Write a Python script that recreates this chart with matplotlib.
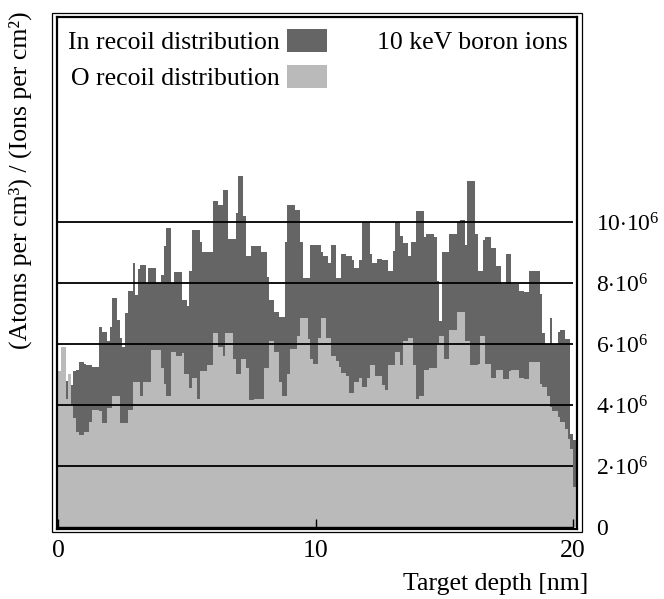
import numpy as np
import matplotlib
matplotlib.use("Agg")
import matplotlib.pyplot as plt
from matplotlib.patches import Patch, Rectangle

plt.rcParams['font.family'] = ['Liberation Serif', 'DejaVu Serif']
plt.rcParams['mathtext.fontset'] = 'custom'
plt.rcParams['mathtext.rm'] = 'Liberation Serif'
plt.rcParams['mathtext.it'] = 'Liberation Serif:italic'

# recoil densities per 0.1 nm bin, in units of 1e6 (atoms/cm3)/(ions/cm2)
in_recoil = [
    4.9, 4.6, 4.6, 4.8, 5.0, 4.65, 5.1, 5.15, 5.4, 5.4,
    5.35, 5.3, 5.3, 5.25, 5.25, 5.25, 6.55, 6.4, 6.4, 6.1,
    6.55, 7.5, 7.5, 6.8, 6.2, 5.9, 7.0, 7.75, 7.75, 8.65,
    7.6, 8.45, 8.6, 8.6, 8.0, 8.5, 8.5, 8.5, 8.0, 8.0,
    8.25, 9.2, 9.8, 9.8, 8.0, 8.35, 8.35, 8.35, 7.45, 7.45,
    7.25, 8.4, 9.75, 9.75, 9.75, 9.35, 9.0, 9.0, 9.0, 9.0,
    10.7, 10.7, 10.55, 10.55, 11.05, 11.05, 9.45, 9.45, 9.45, 10.3,
    11.5, 11.5, 10.2, 8.9, 8.9, 9.2, 9.2, 9.2, 9.2, 9.0,
    9.0, 8.2, 7.45, 7.45, 7.05, 7.05, 6.9, 6.9, 9.35, 10.55,
    10.55, 10.55, 10.4, 10.4, 9.35, 8.15, 8.15, 8.15, 9.25, 9.25,
    9.25, 9.25, 9.0, 8.9, 8.9, 8.65, 9.25, 9.25, 8.15, 8.15,
    8.95, 8.95, 8.9, 8.9, 8.75, 8.5, 8.5, 8.75, 10.0, 10.0,
    10.0, 8.95, 8.65, 8.65, 8.8, 8.8, 8.75, 8.75, 8.4, 8.4,
    9.05, 10.0, 10.0, 9.55, 9.3, 9.3, 8.9, 9.35, 9.35, 10.35,
    10.35, 10.35, 9.5, 9.6, 9.6, 9.6, 9.5, 8.05, 6.75, 9.0,
    9.0, 9.0, 9.6, 9.6, 9.6, 10.0, 10.05, 10.05, 9.25, 11.35,
    11.35, 11.35, 9.6, 8.4, 8.4, 9.4, 9.5, 9.5, 9.15, 9.15,
    8.55, 8.55, 7.95, 7.95, 8.95, 8.95, 7.95, 7.95, 7.95, 7.75,
    7.75, 7.7, 7.7, 8.4, 8.4, 8.4, 8.4, 7.65, 6.35, 6.0,
    6.0, 6.85, 6.0, 6.0, 6.4, 6.45, 6.45, 6.15, 6.15, 3.05,
    2.85,
]
o_recoil = [
    5.1, 5.9, 5.9, 4.2, 5.0, 4.0, 3.56, 3.1, 3.0, 3.0,
    3.1, 3.1, 3.45, 3.85, 3.85, 3.85, 3.8, 3.4, 3.4, 3.9,
    3.9, 4.3, 4.3, 4.3, 3.4, 3.4, 3.4, 3.85, 3.85, 4.75,
    4.75, 4.75, 4.3, 4.75, 4.75, 4.75, 5.8, 5.8, 5.8, 5.8,
    5.2, 4.7, 4.3, 4.3, 5.75, 5.75, 5.6, 5.6, 5.7, 5.0,
    5.0, 4.55, 4.9, 4.9, 4.2, 5.1, 5.1, 5.1, 5.3, 5.3,
    6.35, 6.35, 5.9, 5.9, 5.6, 6.35, 6.35, 6.35, 5.5, 5.0,
    5.0, 5.5, 5.5, 5.2, 4.15, 4.15, 4.2, 4.2, 4.2, 4.2,
    5.2, 5.2, 6.1, 6.1, 5.75, 5.75, 4.75, 4.3, 4.3, 5.0,
    5.85, 5.85, 5.85, 6.25, 6.85, 6.85, 6.85, 6.15, 5.5, 5.35,
    5.35, 6.2, 6.85, 6.85, 6.2, 6.2, 5.6, 5.6, 5.45, 5.25,
    5.05, 5.05, 4.95, 4.4, 4.4, 4.75, 4.75, 4.9, 4.6, 4.6,
    4.9, 5.3, 5.3, 4.95, 4.95, 4.95, 4.65, 4.5, 5.3, 5.3,
    5.3, 5.75, 5.75, 5.3, 6.1, 6.1, 6.2, 6.2, 5.3, 4.2,
    4.3, 4.3, 5.15, 5.15, 5.2, 5.2, 5.2, 6.0, 6.25, 6.25,
    5.5, 5.5, 6.45, 6.45, 6.45, 7.05, 7.05, 7.05, 6.1, 6.1,
    5.3, 5.3, 5.3, 5.35, 6.25, 6.25, 5.35, 5.35, 4.9, 4.9,
    5.15, 5.15, 5.15, 4.85, 4.85, 5.1, 5.15, 5.15, 5.15, 4.9,
    4.9, 4.85, 4.85, 5.4, 5.4, 5.4, 5.4, 4.7, 4.6, 4.6,
    4.3, 3.95, 3.8, 3.8, 3.6, 3.45, 3.45, 3.2, 2.9, 2.55,
    1.3,
]
bin_width = 0.1
edges = np.arange(len(in_recoil) + 1) * bin_width

y_ticks = [0, 2, 4, 6, 8, 10]
y_ticklabels = ['0'] + [r'$%d{\cdot}10^6$' % v for v in y_ticks[1:]]
x_ticks = [0, 10, 20]

dark = '#656565'
light = '#bababa'
fs = 18.5

W, H = 664, 599
fig = plt.figure(figsize=(W / 100, H / 100), dpi=100)


def fx(x):
    return x / W


def fy(y):
    return 1 - y / H


ax = fig.add_axes([fx(57), fy(529), fx(577) - fx(57), fy(17) - fy(529)])

# step outlines, last value repeated so the final bin is closed
ax.fill_between(edges, np.append(in_recoil, in_recoil[-1]), step='post',
                color=dark, lw=0)
ax.fill_between(edges, np.append(o_recoil, o_recoil[-1]), step='post',
                color=light, lw=0)

ax.set_xlim(-0.04, 20.155)
ax.set_ylim(-0.066, 16.72)

ax.hlines(y_ticks[1:], -0.04, 20, color='black', lw=1.3)
ax.hlines(0, -0.04, 20, color='black', lw=1.0)

for s in ax.spines.values():
    s.set_linewidth(1.6)

ax.set_xticks(x_ticks)
ax.set_xticklabels([str(v) for v in x_ticks], fontsize=fs)
ax.tick_params(axis='x', direction='in', length=7, width=1, pad=8)

ax.yaxis.tick_right()
ax.set_yticks(y_ticks)
ax.set_yticklabels(y_ticklabels, fontsize=17)
ax.tick_params(axis='y', length=0, pad=14)
for lab in ax.get_yticklabels():
    lab.set_verticalalignment('center_baseline')

# outer thin frame line
fig.add_artist(Rectangle((fx(52), fy(532)), fx(582) - fx(52), fy(13) - fy(532),
                         fill=False, lw=0.9, edgecolor='black', transform=fig.transFigure))

handles = [Patch(facecolor=dark, edgecolor='none', label='In recoil distribution'),
           Patch(facecolor=light, edgecolor='none', label='O recoil distribution')]
ax.legend(handles=handles, loc='upper left', bbox_to_anchor=(fx(68), fy(29)),
          bbox_transform=fig.transFigure, frameon=False, markerfirst=False,
          fontsize=fs, handlelength=1.55, handleheight=1.0, handletextpad=0.3,
          labelspacing=0.42, borderpad=0, borderaxespad=0)

fig.text(fx(568), fy(43), '10 keV boron ions', ha='right', va='center', fontsize=fs)
fig.text(fx(588), fy(584), 'Target depth [nm]', ha='right', va='center', fontsize=fs)
fig.text(fx(20), fy(180), '(Atoms per cm³) / (Ions per cm²)', rotation=90,
         ha='center', va='center', fontsize=fs)

fig.savefig('out.png', dpi=100)
